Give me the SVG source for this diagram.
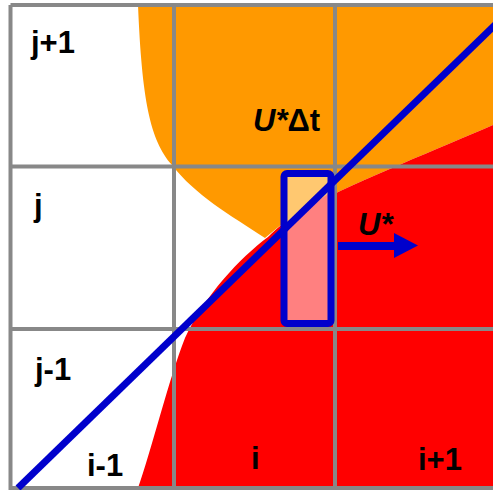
<svg xmlns="http://www.w3.org/2000/svg" width="493" height="490" viewBox="0 0 493 490">
<style>
.lbl{font-family:"Liberation Sans",Arial,sans-serif;font-weight:bold;font-size:31px;fill:#000}
.grid{stroke:#888;stroke-width:4;fill:none}
</style>
<rect width="493" height="490" fill="#fff"/>
<g id="orange-region">
<path d="M138,5 L493,5 L493,125 C440,148 360,180 310,206 C290,217 278,227 265,238 C230,215 195,195 172,165 C150,140 142,100 138,5 Z" fill="#FF9900"/>
</g>
<g id="red-region">
<path d="M493,125 C440,148 360,180 310,206 C290,217 278,227 268,237 C240,258 205,295 185,338 C170,375 150,455 138,488 L493,490 Z" fill="#FF0000"/>
</g>
<g id="grid">
<path class="grid" d="M10.5,5 H497 M10.5,166.5 H497 M10.5,329 H497 M10.5,488 H497 M10.5,5 V490 M174,5 V490 M335,5 V490"/>
</g>
<g id="cell-box">
<rect x="284" y="174" width="47" height="149" fill="#FFC870"/>
<polygon points="284,224 331,192 331,323 284,323" fill="#FF8080"/>
</g>
<g id="connectors">
<line x1="18" y1="488" x2="500" y2="20" stroke="#0000CC" stroke-width="7"/>
<rect x="284" y="173.5" width="47" height="150" rx="3" fill="none" stroke="#0000CC" stroke-width="7"/>
<rect x="338" y="242" width="58" height="8" fill="#0000CC"/>
<polygon points="394,233 418,245.5 394,258" fill="#0000CC"/>
</g>
<g id="labels">
<text class="lbl" x="31" y="53">j+1</text>
<text class="lbl" x="34" y="216">j</text>
<text class="lbl" x="35" y="380">j-1</text>
<text class="lbl" x="87" y="476">i-1</text>
<text class="lbl" x="251" y="469">i</text>
<text class="lbl" x="418" y="470">i+1</text>
<text class="lbl" x="253" y="131" font-size="31"><tspan font-style="italic">U*</tspan>Δt</text>
<text class="lbl" x="358" y="235" font-style="italic">U*</text>
</g>
</svg>
